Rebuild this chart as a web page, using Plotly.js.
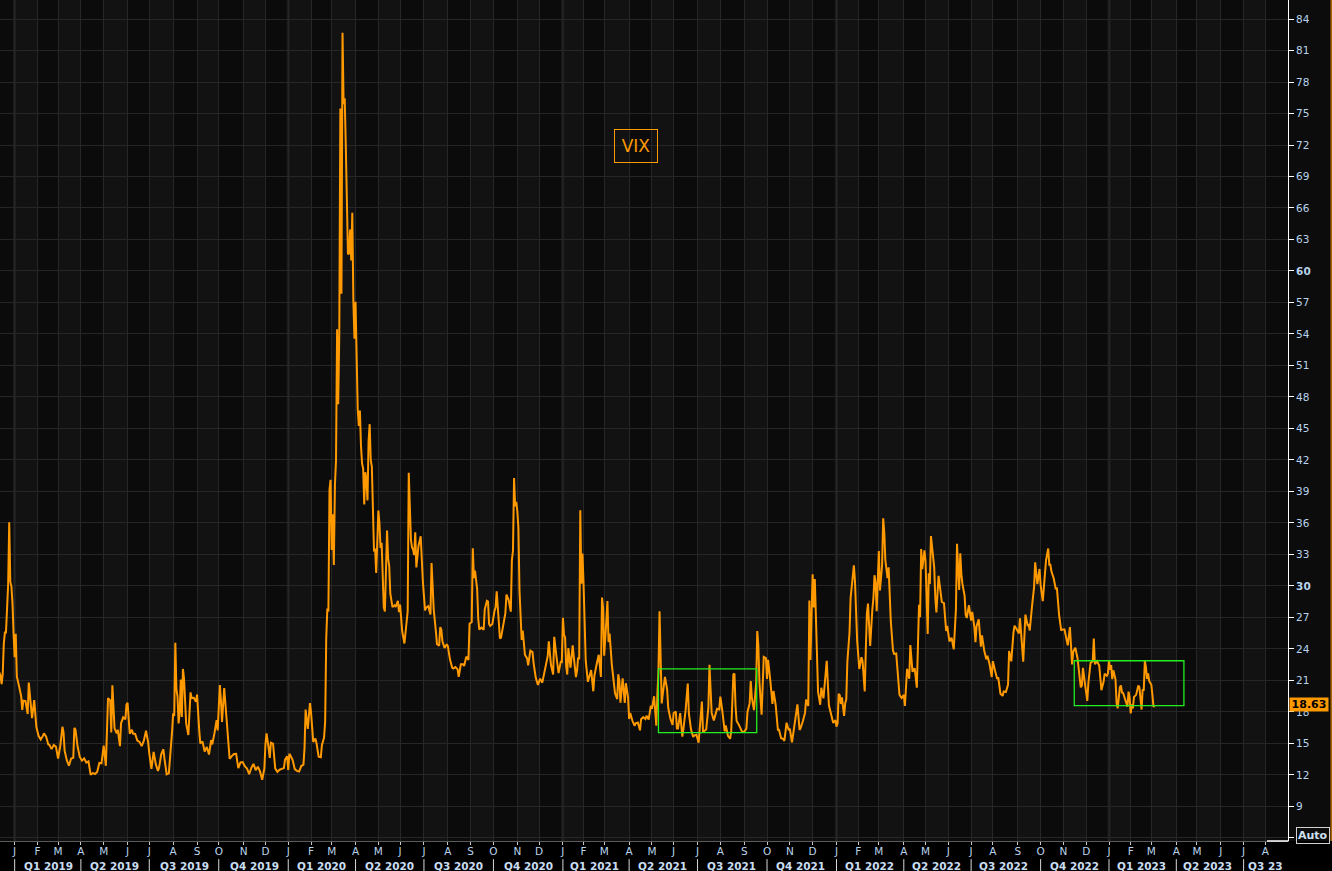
<!DOCTYPE html>
<html><head><meta charset="utf-8">
<script src="https://cdn.plot.ly/plotly-3.0.1.min.js"></script>
<style>html,body{margin:0;padding:0;background:#000;overflow:hidden}#chart{width:1332px;height:871px}</style>
</head><body><div id="chart"></div>
<script>
// ---- VIX closes (month-day per year) ----
const d2018 = ['12-11','12-12','12-13','12-14','12-17','12-18','12-19','12-20','12-21','12-24','12-26','12-27','12-28','12-31'];
const v2018 = [21.76,21.46,20.65,21.63,24.52,25.58,25.58,28.38,30.11,36.07,30.41,29.96,28.34,25.42];

const d2019 = ['01-02','01-03','01-04','01-08','01-10','01-11','01-14','01-16','01-18','01-22','01-24','01-25','01-29','01-31','02-04','02-06','02-08','02-11','02-13','02-15','02-19','02-21','02-25','02-27','03-01','03-05','03-07','03-08','03-11','03-13','03-15','03-19','03-21','03-22','03-25','03-27','03-29','04-02','04-04','04-08','04-10','04-12','04-16','04-18','04-23','04-25','04-29','05-01','05-03','05-06','05-07','05-09','05-10','05-13','05-15','05-17','05-20','05-22','05-23','05-28','05-30','05-31','06-03','06-05','06-07','06-10','06-12','06-14','06-18','06-20','06-24','06-26','06-28','07-01','07-03','07-08','07-10','07-12','07-15','07-17','07-19','07-22','07-24','07-26','07-29','07-31','08-01','08-02','08-05','08-06','08-07','08-08','08-09','08-12','08-13','08-14','08-15','08-16','08-19','08-21','08-23','08-26','08-28','08-30','09-03','09-05','09-06','09-10','09-12','09-16','09-18','09-20','09-23','09-25','09-27','09-30','10-01','10-02','10-03','10-04','10-08','10-10','10-11','10-15','10-17','10-21','10-23','10-25','10-29','10-31','11-04','11-06','11-08','11-12','11-14','11-18','11-20','11-22','11-26','11-29','12-02','12-03','12-05','12-06','12-09','12-11','12-13','12-17','12-19','12-23','12-26','12-27','12-31'];
const v2019 = [23.22,25.45,21.38,20.47,19.50,18.19,19.07,19.04,17.80,20.80,18.89,17.42,19.13,16.57,15.73,15.38,15.72,15.97,15.65,14.91,14.88,14.46,14.85,14.70,13.57,14.74,16.59,16.05,14.33,13.41,12.88,13.56,13.63,16.48,16.33,14.68,13.71,13.36,13.58,13.18,13.30,12.01,12.18,12.09,12.28,13.14,13.11,14.80,12.87,15.44,19.32,19.10,16.04,20.55,16.44,15.96,16.31,14.75,16.92,17.50,17.30,18.71,18.86,15.93,16.30,15.94,15.91,15.28,15.15,14.75,15.26,16.21,15.08,14.06,12.57,14.19,13.03,12.39,12.68,13.97,14.45,13.53,12.07,12.16,13.24,16.12,17.87,17.61,24.59,20.17,19.49,16.91,17.97,21.09,17.52,22.10,21.18,18.47,16.88,15.80,19.87,19.32,19.35,18.98,19.66,16.27,15.00,15.20,14.22,14.67,13.95,15.32,14.91,15.96,17.22,16.24,18.56,20.56,19.12,17.04,20.28,17.57,15.58,13.54,13.79,14.00,14.01,12.65,13.20,13.22,12.83,12.62,12.07,12.68,13.05,12.46,12.78,12.34,11.54,12.62,14.91,15.96,14.52,13.62,15.08,14.99,12.63,12.29,12.50,12.61,12.65,13.43,13.78];

const d2020 = ['01-02','01-03','01-06','01-08','01-10','01-14','01-16','01-21','01-23','01-24','01-27','01-29','01-31','02-03','02-05','02-07','02-10','02-12','02-14','02-18','02-20','02-21','02-24','02-25','02-26','02-27','02-28','03-02','03-03','03-04','03-05','03-06','03-09','03-10','03-11','03-12','03-13','03-16','03-17','03-18','03-19','03-20','03-23','03-24','03-25','03-26','03-27','03-30','03-31','04-01','04-02','04-03','04-06','04-07','04-08','04-09','04-13','04-14','04-15','04-16','04-17','04-20','04-21','04-22','04-23','04-24','04-27','04-28','04-29','04-30','05-01','05-04','05-05','05-06','05-07','05-08','05-11','05-12','05-13','05-14','05-15','05-18','05-20','05-22','05-26','05-28','05-29','06-01','06-03','06-05','06-08','06-10','06-11','06-12','06-15','06-16','06-17','06-18','06-19','06-22','06-24','06-26','06-29','06-30','07-02','07-06','07-08','07-10','07-13','07-15','07-17','07-20','07-22','07-23','07-24','07-27','07-29','07-31','08-03','08-05','08-07','08-10','08-12','08-14','08-17','08-19','08-21','08-24','08-26','08-28','08-31','09-02','09-03','09-04','09-08','09-10','09-11','09-14','09-16','09-18','09-21','09-23','09-24','09-25','09-28','09-30','10-02','10-05','10-06','10-07','10-09','10-12','10-14','10-16','10-19','10-21','10-23','10-26','10-27','10-28','10-29','10-30','11-02','11-03','11-04','11-05','11-06','11-09','11-11','11-13','11-16','11-18','11-20','11-23','11-25','11-30','12-02','12-04','12-07','12-09','12-11','12-14','12-16','12-18','12-21','12-23','12-28','12-30','12-31'];
const v2020 = [12.47,14.02,13.85,13.45,12.56,12.39,12.32,12.85,12.98,14.56,18.23,16.39,18.84,17.97,15.15,15.47,15.04,13.74,13.68,14.83,15.56,17.08,25.03,27.85,27.56,39.16,40.11,33.42,36.82,31.99,39.62,41.94,54.46,47.30,53.90,75.47,57.83,82.69,75.91,76.45,72.00,66.04,61.59,61.67,63.95,61.00,65.54,57.08,53.54,57.06,50.91,46.80,45.24,46.70,43.35,41.67,41.17,37.76,40.84,40.11,38.15,43.83,45.41,41.98,41.38,35.93,33.29,33.57,31.23,34.15,37.19,35.97,33.61,34.12,31.44,27.98,27.57,33.04,35.28,32.61,31.89,29.30,27.99,28.16,28.01,28.59,27.51,28.23,25.66,24.52,25.81,27.57,40.79,36.09,34.40,33.67,33.47,32.94,35.12,31.77,33.84,34.73,31.78,30.43,27.68,27.94,28.08,27.29,32.19,27.76,25.68,24.46,24.32,26.08,25.84,24.74,24.10,24.46,24.28,22.99,22.21,22.13,22.28,22.05,21.35,22.54,22.54,22.37,23.27,22.96,26.41,26.57,33.60,30.75,31.46,29.71,26.87,25.85,26.04,25.83,27.78,28.58,28.51,26.38,26.19,26.37,27.63,27.96,29.48,28.06,25.00,25.07,26.40,27.41,29.18,28.65,27.55,32.46,33.35,40.28,37.59,38.02,37.13,35.55,29.57,27.58,24.86,25.75,23.45,23.10,22.45,23.84,23.70,22.66,21.25,20.57,21.17,20.79,21.30,22.27,23.31,24.72,22.50,21.57,25.16,23.31,21.70,22.77,22.75];

const d2021 = ['01-04','01-05','01-06','01-07','01-08','01-11','01-13','01-15','01-19','01-21','01-22','01-25','01-26','01-27','01-28','01-29','02-01','02-02','02-03','02-05','02-08','02-10','02-12','02-16','02-18','02-22','02-24','02-25','02-26','03-01','03-03','03-04','03-05','03-08','03-10','03-12','03-15','03-17','03-18','03-19','03-22','03-24','03-26','03-29','03-31','04-01','04-05','04-07','04-09','04-12','04-14','04-16','04-19','04-21','04-23','04-26','04-28','04-30','05-03','05-05','05-07','05-10','05-11','05-12','05-13','05-14','05-17','05-19','05-21','05-24','05-26','05-28','06-01','06-03','06-04','06-07','06-09','06-11','06-14','06-16','06-18','06-21','06-23','06-25','06-28','06-30','07-02','07-06','07-08','07-09','07-12','07-14','07-16','07-19','07-21','07-23','07-26','07-28','07-30','08-02','08-04','08-06','08-09','08-11','08-13','08-16','08-18','08-19','08-20','08-23','08-25','08-27','08-30','09-01','09-03','09-07','09-09','09-10','09-13','09-15','09-17','09-20','09-21','09-22','09-24','09-28','09-30','10-01','10-04','10-06','10-08','10-11','10-13','10-15','10-18','10-20','10-22','10-25','10-27','10-29','11-01','11-03','11-05','11-08','11-10','11-12','11-15','11-17','11-19','11-22','11-24','11-26','11-29','11-30','12-01','12-02','12-03','12-06','12-08','12-10','12-13','12-15','12-17','12-20','12-22','12-27','12-29','12-31'];
const v2021 = [26.97,25.34,25.07,22.37,21.56,24.08,22.21,24.34,23.24,21.32,21.91,23.19,23.02,37.21,30.21,33.09,30.24,25.56,22.91,20.87,21.24,21.99,19.97,21.46,22.49,23.45,21.34,28.89,27.95,23.35,26.67,28.57,24.66,25.47,22.56,20.69,19.79,19.23,21.58,20.95,18.88,21.20,18.86,20.74,19.40,17.33,17.91,17.16,16.69,16.91,16.99,16.25,17.30,17.50,17.33,17.64,17.28,18.61,18.31,19.50,16.69,19.66,21.84,27.59,23.13,18.81,19.72,21.34,20.15,18.40,17.36,16.76,17.90,18.04,16.42,16.42,17.89,15.65,16.39,18.15,20.70,17.89,16.32,15.62,15.76,15.83,15.07,16.44,19.00,16.18,16.17,16.33,18.45,22.50,17.91,17.20,17.58,18.31,18.24,19.46,17.97,16.15,16.72,15.73,15.45,16.12,21.57,21.67,18.56,17.15,16.79,16.39,16.11,16.11,16.41,18.00,18.80,20.95,19.37,18.18,20.81,25.71,24.36,20.87,17.75,23.25,23.14,21.15,22.96,21.00,18.77,20.00,18.64,16.30,16.30,15.49,15.43,15.24,16.98,16.26,16.41,15.10,16.48,17.22,18.73,16.29,16.49,17.11,17.91,19.17,18.58,28.62,22.96,27.19,31.12,27.95,30.67,27.18,19.90,18.69,20.31,19.29,21.57,22.87,18.63,17.68,16.95,17.22];

const d2022 = ['01-03','01-04','01-05','01-06','01-07','01-10','01-12','01-13','01-14','01-18','01-19','01-20','01-21','01-24','01-25','01-26','01-27','01-28','01-31','02-02','02-04','02-07','02-09','02-10','02-11','02-14','02-16','02-18','02-22','02-23','02-24','02-25','02-28','03-01','03-02','03-04','03-07','03-08','03-09','03-11','03-14','03-16','03-18','03-21','03-23','03-25','03-28','03-30','04-01','04-04','04-06','04-08','04-11','04-13','04-18','04-20','04-22','04-25','04-26','04-27','04-29','05-02','05-04','05-05','05-06','05-09','05-11','05-12','05-13','05-16','05-18','05-20','05-23','05-25','05-27','05-31','06-02','06-06','06-08','06-10','06-13','06-15','06-16','06-17','06-21','06-23','06-24','06-27','06-29','07-01','07-05','07-07','07-08','07-11','07-13','07-15','07-18','07-20','07-22','07-25','07-27','07-29','08-01','08-03','08-05','08-08','08-10','08-12','08-15','08-17','08-19','08-22','08-24','08-26','08-29','08-31','09-02','09-06','09-08','09-09','09-13','09-15','09-16','09-19','09-21','09-23','09-26','09-28','09-30','10-03','10-05','10-07','10-10','10-12','10-13','10-14','10-17','10-19','10-21','10-24','10-26','10-28','10-31','11-02','11-04','11-07','11-09','11-10','11-11','11-14','11-16','11-18','11-21','11-23','11-25','11-28','11-30','12-01','12-02','12-05','12-07','12-09','12-12','12-13','12-15','12-16','12-19','12-21','12-23','12-27','12-29','12-30'];
const v2022 = [16.60,16.91,19.73,19.61,18.76,19.40,17.62,18.83,19.19,22.79,23.85,25.59,28.85,29.90,31.16,31.96,30.49,27.66,24.83,22.09,23.22,22.86,19.96,23.91,27.36,28.33,24.29,27.75,28.81,31.02,30.32,27.59,30.15,33.32,29.57,31.98,36.45,35.13,32.45,30.75,31.77,26.67,23.87,23.53,23.57,20.81,19.63,19.33,19.63,18.57,22.10,21.16,24.37,21.82,22.17,20.32,28.21,27.02,33.52,31.60,33.40,32.34,25.42,31.20,30.19,34.75,32.56,31.77,28.87,27.47,30.96,29.43,28.48,28.37,25.72,26.19,24.72,25.07,23.96,27.75,34.02,29.62,33.11,31.13,30.19,29.05,27.23,26.95,28.16,26.70,27.54,26.08,24.64,26.17,26.82,24.23,25.30,23.88,23.03,23.36,22.54,21.33,22.84,21.95,21.15,21.29,19.74,19.53,19.95,19.90,20.60,23.80,22.82,25.56,26.21,25.87,25.47,26.91,23.61,22.79,27.27,26.27,26.30,25.76,27.99,29.92,32.26,30.18,31.62,30.10,28.55,31.36,32.45,33.57,32.02,32.02,31.37,30.76,29.69,29.85,27.28,25.75,25.88,25.86,24.55,24.35,26.09,23.53,22.52,23.73,24.11,23.12,22.36,20.35,20.50,22.21,20.58,19.84,19.06,20.75,22.68,22.83,25.00,22.55,22.83,22.62,22.42,20.07,20.87,21.65,21.44,21.67];

const d2023 = ['01-03','01-04','01-05','01-06','01-09','01-11','01-12','01-13','01-17','01-18','01-19','01-20','01-23','01-25','01-27','01-30','01-31','02-01','02-02','02-03','02-06','02-08','02-10','02-13','02-14','02-15','02-16','02-17','02-21','02-22','02-23','02-24','02-27','02-28','03-01','03-02','03-03','03-06'];
const v2023 = [22.90,22.01,22.46,21.13,21.97,21.09,18.83,18.35,19.36,20.34,20.52,19.85,19.81,19.08,18.51,19.94,19.40,17.87,18.73,18.33,19.43,19.63,20.53,20.34,18.91,18.23,20.17,20.02,22.87,22.29,21.14,21.67,20.95,20.70,20.58,19.59,18.49,18.63];

// ---- axis labels ----
const monthLetters = ['J','F','M','A','M','J','J','A','S','O','N','D'];
const yTickVals = [6,9,12,15,18,21,24,27,30,33,36,39,42,45,48,51,54,57,60,63,66,69,72,75,78,81,84];
const yTickText = ['','9','12','15','18','21','24','27','<b>30</b>','33','36','39','42','45','48','51','54','57','<b>60</b>','63','66','69','72','75','78','81','84'];
const quarterLabels = ['Q1 2019','Q2 2019','Q3 2019','Q4 2019','Q1 2020','Q2 2020','Q3 2020','Q4 2020','Q1 2021','Q2 2021','Q3 2021','Q4 2021','Q1 2022','Q2 2022','Q3 2022','Q4 2022','Q1 2023','Q2 2023','Q3 23'];
const lastValueText = '18.63';
const seriesName = 'VIX';
// boxes drawn on the chart: [x0, x1, y0, y1]
const box1 = ['2021-05-11','2021-09-17 12:00',16.03,22.1];
const box2 = ['2022-11-15','2023-04-13',18.6,22.88];

// NYSE closed days (for trading-day axis)
const holidays = ['2018-12-25','2019-01-01','2019-01-21','2019-02-18','2019-04-19','2019-05-27','2019-07-04','2019-09-02','2019-11-28','2019-12-25','2020-01-01','2020-01-20','2020-02-17','2020-04-10','2020-05-25','2020-07-03','2020-09-07','2020-11-26','2020-12-25','2021-01-01','2021-01-18','2021-02-15','2021-04-02','2021-05-31','2021-07-05','2021-09-06','2021-11-25','2021-12-24','2022-01-17','2022-02-21','2022-04-15','2022-05-30','2022-06-20','2022-07-04','2022-09-05','2022-11-24','2022-12-26','2023-01-02','2023-01-16','2023-02-20','2023-04-07','2023-05-29','2023-06-19','2023-07-04'];

function iso(d){return d.toISOString().slice(0,10);}
function firstTrading(y,m,day){
  const d=new Date(Date.UTC(y,m,day||1));
  while(d.getUTCDay()===0||d.getUTCDay()===6||holidays.includes(iso(d))) d.setUTCDate(d.getUTCDate()+1);
  return iso(d);
}

const x=[], y=[];
[[2018,d2018,v2018],[2019,d2019,v2019],[2020,d2020,v2020],[2021,d2021,v2021],[2022,d2022,v2022],[2023,d2023,v2023]].forEach(([yr,ds,vs])=>{
  ds.forEach((d,i)=>{x.push(yr+'-'+d); y.push(vs[i]);});
});

// month ticks
const tickvals=[], ticktext=[];
for(let yr=2019; yr<=2023; yr++){
  for(let m=0;m<12;m++){
    if(yr===2023 && m>7) break;
    tickvals.push(firstTrading(yr,m,1)); ticktext.push(monthLetters[m]);
  }
}

const shapes=[];
// alternating month bands
for(let yr=2018; yr<=2023; yr++){
  for(let m=0;m<12;m++){
    if(yr===2018 && m<11) continue;
    if(yr===2023 && m>8) break;
    if(m%2===0){
      const ny = m===11? yr+1: yr, nm = (m+1)%12;
      shapes.push({type:'rect',xref:'x',yref:'paper',x0:firstTrading(yr,m,1),x1:firstTrading(ny,nm,1),y0:0,y1:1,fillcolor:'#121212',line:{width:0},layer:'below'});
    }
  }
}
// year separators
for(let yr=2019; yr<=2023; yr++){
  const xv=firstTrading(yr,0,1);
  shapes.push({type:'line',xref:'x',yref:'paper',x0:xv,x1:xv,y0:0,y1:1,line:{color:'#1d1d1d',width:3},layer:'below'});
}
// quarter separators + labels
const annotations=[];
let qi=0;
for(let yr=2019; yr<=2023; yr++){
  for(let q=0;q<4;q++){
    if(qi>=quarterLabels.length) break;
    const qs=firstTrading(yr,q*3,1);
    shapes.push({type:'line',xref:'x',yref:'paper',x0:qs,x1:qs,y0:-0.0215,y1:-0.0365,line:{color:'#d8d8d8',width:1}});
    const mid = (qi===quarterLabels.length-1)? firstTrading(yr,q*3+1,1) : firstTrading(yr,q*3+1,15);
    annotations.push({xref:'x',yref:'paper',x:mid,y:-0.0298,text:'<b>'+quarterLabels[qi]+'</b>',showarrow:false,xanchor:'center',yanchor:'middle',font:{family:'DejaVu Sans',size:10.5,color:'#c9ddf2'},borderpad:0});
    qi++;
  }
}
// highlight boxes
[box1,box2].forEach(b=>shapes.push({type:'rect',xref:'x',yref:'y',x0:b[0],x1:b[1],y0:b[2],y1:b[3],line:{color:'#22ee22',width:1.3},fillcolor:'rgba(0,0,0,0)',layer:'above'}));
// right panel background and frame pieces
shapes.push({type:'rect',xref:'paper',yref:'paper',x0:1,x1:1.0342,y0:0,y1:1,fillcolor:'#0c0c0c',line:{width:0},layer:'below'});
shapes.push({type:'line',xref:'paper',yref:'paper',x0:1.0335,x1:1.0335,y0:0,y1:1,line:{color:'#ff9900',width:1}});
shapes.push({type:'line',xref:'paper',yref:'paper',x0:0.9837,x1:1,y0:0,y1:0,line:{color:'#ffffff',width:1.5}});

annotations.push({xref:'paper',yref:'paper',x:0.4938,y:0.8264,text:seriesName,showarrow:false,font:{family:'DejaVu Sans',size:17,color:'#ff9900'},bordercolor:'#ff9900',borderwidth:1,borderpad:1,width:40,height:30,xanchor:'center',yanchor:'middle'});
annotations.push({xref:'paper',yref:'y',x:1.0005,y:y[y.length-1]+0.1,text:'<b>'+lastValueText+'</b>',showarrow:false,xanchor:'left',yanchor:'middle',bgcolor:'#ff9900',font:{family:'DejaVu Sans',size:11,color:'#000'},borderpad:0,width:38});
annotations.push({xref:'paper',yref:'y',x:1.0062,y:6.2,text:'<b>Auto</b>',showarrow:false,xanchor:'left',yanchor:'middle',bordercolor:'#d0d0d0',borderwidth:1,borderpad:1,font:{family:'DejaVu Sans',size:11,color:'#cfe0f2'}});

const trace={type:'scatter',mode:'lines',x:x,y:y,name:seriesName,line:{color:'#ff9900',width:2},hoverinfo:'skip'};

const layout={
  width:1332,height:871,
  margin:{l:0,r:44,t:0,b:30,pad:0},
  paper_bgcolor:'#000',plot_bgcolor:'#0b0b0b',
  showlegend:false,
  font:{family:'DejaVu Sans',size:10.5,color:'#b9d3ec'},
  xaxis:{type:'date',range:['2018-12-11 12:00','2023-08-29 21:00'],
    rangebreaks:[{bounds:['sat','mon']},{values:holidays}],
    tickmode:'array',tickvals:tickvals,ticktext:ticktext,ticks:'outside',ticklen:3,tickcolor:'#c8c8c8',
    ticklabelstandoff:-3,
    showgrid:true,gridcolor:'#262626',gridwidth:1,showline:true,linecolor:'#5a5a5a',linewidth:1,zeroline:false,
    tickfont:{family:'DejaVu Sans',size:10.5,color:'#b9d3ec'},fixedrange:true},
  yaxis:{side:'right',range:[5.71,85.81],tickmode:'array',tickvals:yTickVals,ticktext:yTickText,
    ticks:'outside',ticklen:5,tickcolor:'#ffffff',showline:true,linecolor:'#ffffff',linewidth:1,
    showgrid:true,gridcolor:'#262626',gridwidth:1,zeroline:false,
    tickfont:{family:'DejaVu Sans',size:10.5,color:'#b9d3ec'},fixedrange:true},
  shapes:shapes,annotations:annotations
};
Plotly.newPlot('chart',[trace],layout,{displayModeBar:false,staticPlot:true});
</script></body></html>
